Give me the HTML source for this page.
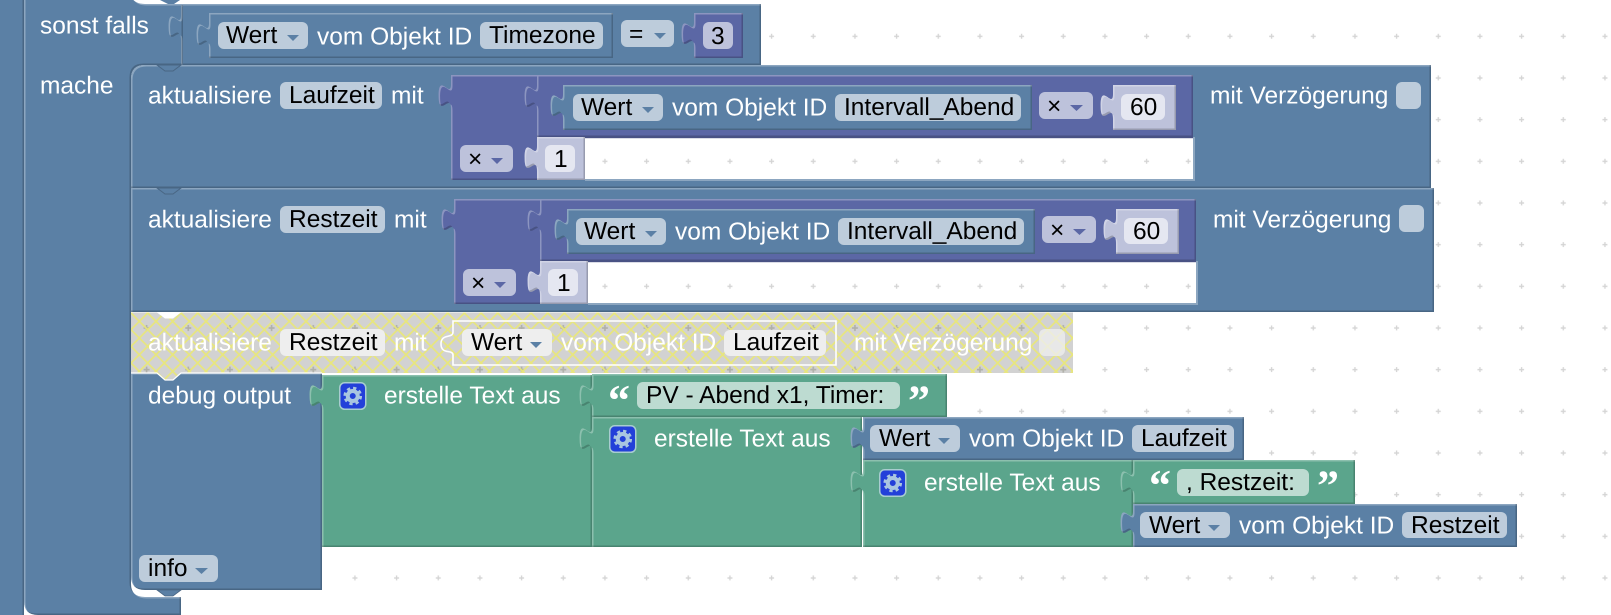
<!DOCTYPE html>
<html><head><meta charset="utf-8">
<style>
html,body{margin:0;padding:0;background:#fff;width:1611px;height:615px;overflow:hidden}
svg{display:block}
text{font-family:"Liberation Sans",sans-serif;font-size:24.5px;text-rendering:geometricPrecision}
.t{fill:#fff;transform:translateY(.7px)}.k{fill:#000}
.q{font-family:"Liberation Serif",serif;font-weight:bold;font-size:44px;fill:#fff}
.B{fill:#5b80a5}.P{fill:#5b67a5}.G{fill:#5ba58c}.L{fill:#bdc2db}
.fb{fill:#bdccdb}.fp{fill:#bdc2db}.fl{fill:#e5e7f1}.fg{fill:#bddbd1}.fd{fill:#eeeeee}
</style></head><body>
<svg xmlns="http://www.w3.org/2000/svg" width="1611" height="615" viewBox="0 0 1611 615">
<defs>
<pattern id="dots" patternUnits="userSpaceOnUse" x="16.6" y="31.3" width="41.667" height="41.667">
<path d="M5,2.5V7.5M2.5,5H7.5" stroke="#d4d4d4" stroke-width="1.3" fill="none"/>
</pattern>
<pattern id="dots2" patternUnits="userSpaceOnUse" x="16.6" y="31.3" width="41.667" height="41.667">
<path d="M5,2V8M2,5H8" stroke="#b0b0a8" stroke-width="1.6" fill="none"/>
</pattern>
<pattern id="hatch" patternUnits="userSpaceOnUse" x="131" y="313" width="16.667" height="16.667">
<path d="M-2,-2L18.667,18.667M-2,18.667L18.667,-2" stroke="#e8e67c" stroke-width="1.7" fill="none"/>
</pattern>
<filter id="bev" filterUnits="userSpaceOnUse" x="0" y="0" width="1611" height="615" color-interpolation-filters="sRGB">
<feOffset in="SourceAlpha" dx="1.5" dy="1.5" result="o1"/>
<feComposite in="SourceAlpha" in2="o1" operator="out" result="e1"/>
<feFlood flood-color="#fff" flood-opacity=".3"/>
<feComposite in2="e1" operator="in" result="light"/>
<feOffset in="SourceAlpha" dx="-1.5" dy="-1.5" result="o2"/>
<feComposite in="SourceAlpha" in2="o2" operator="out" result="e2"/>
<feFlood flood-color="#000" flood-opacity=".2"/>
<feComposite in2="e2" operator="in" result="dark"/>
<feMerge><feMergeNode in="SourceGraphic"/><feMergeNode in="light"/><feMergeNode in="dark"/></feMerge>
</filter>
<path id="tab" d="M0,0c0,15.500 -12.400,-12.400 -12.400,11.600s12.400,-3.900 12.400,13.400z"/>
<g id="gear">
<rect x=".75" y=".75" width="26" height="26.5" rx="5" fill="#2340d9" stroke="#a9cdd0" stroke-width="1.5"/>
<circle cx="13.75" cy="14" r="5" fill="none" stroke="#a9c6e0" stroke-width="4"/>
<circle cx="13.75" cy="14" r="8" fill="none" stroke="#a9c6e0" stroke-width="2.6" stroke-dasharray="3.3 3"/>
</g>
</defs>

<rect width="1611" height="615" fill="#fff"/>
<rect width="1611" height="615" fill="url(#dots)"/>

<!-- outer strip -->
<rect x="-5" y="-5" width="28.5" height="630" class="B"/>
<rect x="22.5" y="0" width="1.5" height="615" fill="#496684"/>

<!-- sonst falls / mache C block -->
<path filter="url(#bev)" class="B" d="M24,-6H130Q133,4 145,4H761V65H145Q131,65 131,79V584Q131,597 145,597H181V615H38Q24,615 24,601Z"/>
<path d="M160,0l8,4h6l6,-4z" fill="#5b80a5"/>
<g filter="url(#bev)" class="B"><rect x="181" y="5" width="2" height="60"/><use href="#tab" x="181" y="15"/></g>
<text class="t" x="40" y="33">sonst falls</text>
<text class="t" x="40" y="93">mache</text>

<!-- Timezone block -->
<g filter="url(#bev)" class="B"><rect x="209" y="13" width="404" height="45"/><use href="#tab" x="209" y="23"/></g>
<rect class="fb" x="218" y="22" width="90" height="27" rx="6"/>
<text class="k" x="226" y="43">Wert</text><path class="B" d="M287,35h12l-6,6z"/>
<text class="t" x="317" y="44">vom Objekt ID</text>
<rect class="fb" x="480" y="22" width="123" height="27" rx="6"/>
<text class="k" x="489" y="43">Timezone</text>
<rect class="fb" x="621" y="20" width="53" height="27" rx="6"/>
<text class="k" x="629" y="42">=</text><path class="B" d="M654,33h12l-6,6z"/>
<g filter="url(#bev)" class="P"><rect x="694" y="13" width="49" height="45"/><use href="#tab" x="694" y="22"/></g>
<rect class="fp" x="703" y="22" width="30" height="27" rx="6"/>
<text class="k" x="711" y="44">3</text>

<!-- Row 1 -->
<path filter="url(#bev)" class="B" d="M131,79Q131,65 145,65H1431V188H131Z"/>
<path d="M157,65l8,6h8l8,-6z" fill="#5b80a5" stroke="#496684" stroke-width="1"/>
<text class="t" x="148" y="103">aktualisiere</text>
<rect class="fb" x="280" y="82" width="102" height="27" rx="6"/>
<text class="k" x="289" y="103">Laufzeit</text>
<text class="t" x="391" y="103">mit</text>
<g filter="url(#bev)" class="P"><rect x="451" y="75" width="742" height="105"/><use href="#tab" x="451" y="84"/></g>
<g filter="url(#bev)" class="P"><rect x="537" y="75" width="656" height="62"/><use href="#tab" x="537" y="85"/></g>
<g filter="url(#bev)" class="B"><rect x="563" y="85" width="469" height="45"/><use href="#tab" x="563" y="94"/></g>
<rect class="fb" x="573" y="94" width="90" height="27" rx="6"/>
<text class="k" x="581" y="115">Wert</text><path class="B" d="M642,107h12l-6,6z"/>
<text class="t" x="672" y="115">vom Objekt ID</text>
<rect class="fb" x="835" y="94" width="186" height="27" rx="6"/>
<text class="k" x="844" y="115">Intervall_Abend</text>
<rect class="fp" x="1039" y="92" width="54" height="27" rx="6"/>
<text class="k" x="1047" y="114">×</text><path class="P" d="M1070,105h13l-6.500,6z"/>
<g filter="url(#bev)" class="L"><rect x="1113" y="85" width="63" height="45"/><use href="#tab" x="1113" y="94"/></g>
<rect class="fl" x="1121" y="94" width="44" height="26" rx="6"/>
<text class="k" x="1130" y="115">60</text>
<rect x="585" y="137" width="608" height="43" fill="#fff"/>
<rect x="585" y="137" width="608" height="43" fill="url(#dots)"/>
<rect x="585" y="137" width="608" height="1.2" fill="#495284"/>
<rect x="585" y="179" width="610" height="2" fill="#8ca6c0"/>
<rect x="1193" y="137" width="2" height="44" fill="#8ca6c0"/>
<rect class="fp" x="460" y="145" width="53" height="27" rx="6"/>
<text class="k" x="468" y="167">×</text><path class="P" d="M491,158h12l-6,6z"/>
<g filter="url(#bev)" class="L"><rect x="537" y="137" width="48" height="43"/><use href="#tab" x="537" y="146"/></g>
<rect class="fl" x="545" y="145" width="30" height="27" rx="6"/>
<text class="k" x="554" y="167">1</text>
<text class="t" x="1210" y="103">mit Verzögerung</text>
<rect class="fb" x="1396" y="82" width="25" height="27" rx="6"/>

<!-- Row 2 -->
<path filter="url(#bev)" class="B" d="M131,188H1434V312H131Z"/>
<path d="M157,188l8,6h8l8,-6z" fill="#5b80a5" stroke="#496684" stroke-width="1"/>
<text class="t" x="148" y="227">aktualisiere</text>
<rect class="fb" x="280" y="206" width="105" height="27" rx="6"/>
<text class="k" x="289" y="227">Restzeit</text>
<text class="t" x="394" y="227">mit</text>
<g filter="url(#bev)" class="P"><rect x="454" y="199" width="742" height="105"/><use href="#tab" x="454" y="208"/></g>
<g filter="url(#bev)" class="P"><rect x="540" y="199" width="656" height="62"/><use href="#tab" x="540" y="209"/></g>
<g filter="url(#bev)" class="B"><rect x="567" y="209" width="468" height="45"/><use href="#tab" x="567" y="218"/></g>
<rect class="fb" x="576" y="218" width="90" height="27" rx="6"/>
<text class="k" x="584" y="239">Wert</text><path class="B" d="M645,231h12l-6,6z"/>
<text class="t" x="675" y="239">vom Objekt ID</text>
<rect class="fb" x="838" y="218" width="186" height="27" rx="6"/>
<text class="k" x="847" y="239">Intervall_Abend</text>
<rect class="fp" x="1042" y="216" width="54" height="27" rx="6"/>
<text class="k" x="1050" y="238">×</text><path class="P" d="M1073,229h13l-6.500,6z"/>
<g filter="url(#bev)" class="L"><rect x="1116" y="209" width="63" height="45"/><use href="#tab" x="1116" y="218"/></g>
<rect class="fl" x="1124" y="218" width="44" height="26" rx="6"/>
<text class="k" x="1133" y="239">60</text>
<rect x="588" y="261" width="608" height="43" fill="#fff"/>
<rect x="588" y="261" width="608" height="43" fill="url(#dots)"/>
<rect x="588" y="261" width="608" height="1.2" fill="#495284"/>
<rect x="588" y="303" width="610" height="2" fill="#8ca6c0"/>
<rect x="1196" y="261" width="2" height="44" fill="#8ca6c0"/>
<rect class="fp" x="463" y="269" width="53" height="27" rx="6"/>
<text class="k" x="471" y="291">×</text><path class="P" d="M494,282h12l-6,6z"/>
<g filter="url(#bev)" class="L"><rect x="540" y="261" width="48" height="43"/><use href="#tab" x="540" y="270"/></g>
<rect class="fl" x="548" y="269" width="30" height="27" rx="6"/>
<text class="k" x="557" y="291">1</text>
<text class="t" x="1213" y="227">mit Verzögerung</text>
<rect class="fb" x="1399" y="205" width="25" height="27" rx="6"/>

<!-- Debug block -->
<path filter="url(#bev)" class="B" d="M131,373H322V590H145Q131,590 131,576Z"/>
<path d="M157,590h24l-8,6h-8z" fill="#5b80a5" stroke="#496684" stroke-width=".8"/>
<text class="t" x="148" y="403">debug output</text>
<rect class="fb" x="139" y="555" width="79" height="27" rx="6"/>
<text class="k" x="148" y="576">info</text><path class="B" d="M195,568h13l-6.500,6z"/>

<!-- Disabled row -->
<path d="M131,312.500H157l8,6h8l8,-6H1073V373H181l-8,7h-8l-8,-7H131Z" fill="#d2d2d2"/>
<path d="M131,312.500H157l8,6h8l8,-6H1073V373H181l-8,7h-8l-8,-7H131Z" fill="url(#dots2)"/>
<path d="M131,312.500H157l8,6h8l8,-6H1073V373H181l-8,7h-8l-8,-7H131Z" fill="url(#hatch)"/>
<path d="M131,373H157l8,7h8l8,-7H322" fill="none" stroke="#fff" stroke-width="1.2"/>
<text class="t" x="148" y="350">aktualisiere</text>
<rect class="fd" x="280" y="329" width="105" height="27" rx="6"/>
<text class="k" x="289" y="350">Restzeit</text>
<text class="t" x="394" y="350">mit</text>
<path d="M453,321H836V365H453V355c0,-6 -12,0 -12,-11c0,-11 12,-5 12,-12Z" fill="none" stroke="#fff" stroke-width="1.6"/>
<rect class="fd" x="462" y="329" width="90" height="27" rx="6"/>
<text class="k" x="471" y="350">Wert</text><path class="B" d="M530,342h12l-6,6z"/>
<text class="t" x="561" y="350">vom Objekt ID</text>
<rect class="fd" x="724" y="330" width="102" height="26" rx="6"/>
<text class="k" x="733" y="350">Laufzeit</text>
<text class="t" x="854" y="350">mit Verzögerung</text>
<rect x="1039" y="329" width="26" height="27" rx="6" fill="#eeeeee" fill-opacity=".8"/>

<!-- Green: erstelle 1 -->
<g filter="url(#bev)" class="G"><rect x="322" y="375" width="270" height="172"/><use href="#tab" x="322" y="384"/></g>
<use href="#gear" x="339" y="382"/>
<text class="t" x="384" y="403">erstelle Text aus</text>

<!-- PV -->
<g filter="url(#bev)" class="G"><rect x="592" y="374" width="355" height="43"/><use href="#tab" x="592" y="384"/></g>
<text class="q" x="608" y="415">“</text>
<rect class="fg" x="637" y="382" width="263" height="27" rx="6"/>
<text class="k" x="646" y="403">PV - Abend x1, Timer:</text>
<text class="q" x="908" y="415.500">”</text>

<!-- erstelle 2 -->
<g filter="url(#bev)" class="G"><rect x="592" y="417" width="270" height="130"/><use href="#tab" x="592" y="427"/></g>
<use href="#gear" x="609" y="425"/>
<text class="t" x="654" y="446">erstelle Text aus</text>

<!-- Wert Laufzeit -->
<g filter="url(#bev)" class="B"><rect x="863" y="417" width="381" height="43"/><use href="#tab" x="863" y="426"/></g>
<rect class="fb" x="870" y="425" width="90" height="27" rx="6"/>
<text class="k" x="879" y="446">Wert</text><path class="B" d="M938,438h12l-6,6z"/>
<text class="t" x="969" y="446">vom Objekt ID</text>
<rect class="fb" x="1132" y="425" width="102" height="27" rx="6"/>
<text class="k" x="1141" y="446">Laufzeit</text>

<!-- erstelle 3 -->
<g filter="url(#bev)" class="G"><rect x="863" y="460" width="270" height="87"/><use href="#tab" x="863" y="470"/></g>
<use href="#gear" x="879" y="469"/>
<text class="t" x="924" y="490">erstelle Text aus</text>

<!-- Restzeit text -->
<g filter="url(#bev)" class="G"><rect x="1133" y="460" width="222" height="44"/><use href="#tab" x="1133" y="470"/></g>
<text class="q" x="1149" y="500">“</text>
<rect class="fg" x="1177" y="469" width="132" height="27" rx="6"/>
<text class="k" x="1186" y="490">, Restzeit:</text>
<text class="q" x="1317" y="500.500">”</text>

<!-- Wert Restzeit -->
<g filter="url(#bev)" class="B"><rect x="1133" y="504" width="384" height="43"/><use href="#tab" x="1133" y="511"/></g>
<rect class="fb" x="1140" y="512" width="90" height="26" rx="6"/>
<text class="k" x="1149" y="533">Wert</text><path class="B" d="M1208,525h12l-6,6z"/>
<text class="t" x="1239" y="533">vom Objekt ID</text>
<rect class="fb" x="1402" y="512" width="105" height="26" rx="6"/>
<text class="k" x="1411" y="533">Restzeit</text>
</svg>
</body></html>
